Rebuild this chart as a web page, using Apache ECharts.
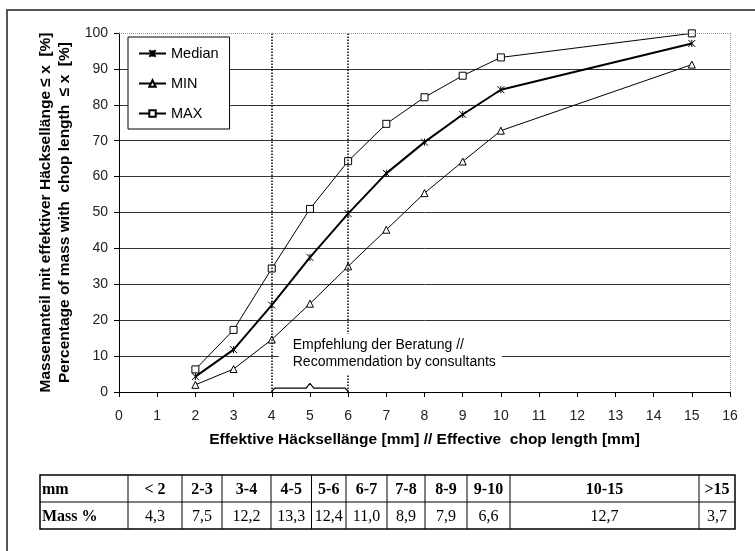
<!DOCTYPE html>
<html>
<head>
<meta charset="utf-8">
<script src="https://cdn.jsdelivr.net/npm/echarts@6/dist/echarts.min.js"></script>
<style>
  html, body { margin: 0; padding: 0; background: #fff; }
  #chart { width: 755px; height: 551px; }
</style>
</head>
<body>
<div id="chart"></div>
<script>
// chop length positions (mm)
const chopLength = [2, 3, 4, 5, 6, 7, 8, 9, 10, 15]
const medianVals = [4.3, 11.8, 24.2, 37.5, 49.7, 60.9, 69.6, 77.3, 84.2, 97.1]
const minVals = [2.0, 6.4, 14.6, 24.6, 35.0, 45.2, 55.4, 64.2, 72.8, 91.2]
const maxVals = [6.3, 17.3, 34.4, 51.0, 64.3, 74.7, 82.1, 88.1, 93.2, 99.9]
// recommended range and its brace
const recommend = [4, 6]
const braceX = [4, 4.08, 4.9, 5, 5.1, 5.92, 6]
const braceY = [0.2, 1.1, 1.1, 2.4, 1.1, 1.1, 0.2]
// table below the chart
const tableHead = ['mm', '< 2', '2-3', '3-4', '4-5', '5-6', '6-7', '7-8', '8-9', '9-10', '10-15', '>15']
const tableMass = ['Mass %', '4,3', '7,5', '12,2', '13,3', '12,4', '11,0', '8,9', '7,9', '6,6', '12,7', '3,7']

const zip = (xa, ya) => xa.map((x, i) => [x, ya[i]])

const chart = echarts.init(document.getElementById('chart'))

// table layout
const colW = [88, 54, 40, 49, 40.5, 34.5, 41, 38, 42, 43, 189, 36]
const tblLeft = 40, tblTop = 475, rowH = 27
function buildTable() {
  let els = []
  let x = tblLeft
  const total = colW.reduce((a, b) => a + b, 0)
  els.push({ type: 'rect', shape: { x: tblLeft, y: tblTop, width: total, height: rowH * 2 },
    style: { fill: 'none', stroke: '#000', lineWidth: 1.5 } })
  els.push({ type: 'line', shape: { x1: tblLeft, y1: tblTop + rowH, x2: tblLeft + total, y2: tblTop + rowH },
    style: { stroke: '#000', lineWidth: 1.2 } })
  colW.forEach((w, i) => {
    if (i > 0) {
      els.push({ type: 'line', shape: { x1: x, y1: tblTop, x2: x, y2: tblTop + rowH * 2 },
        style: { stroke: '#000', lineWidth: 1 } })
    }
    const first = i === 0
    els.push({ type: 'text', x: first ? x + 2 : x + w / 2, y: tblTop + rowH / 2 + 1,
      style: { text: tableHead[i], fontFamily: 'Liberation Serif', fontWeight: 'bold', fontSize: 16,
        fill: '#000', align: first ? 'left' : 'center', verticalAlign: 'middle' } })
    els.push({ type: 'text', x: first ? x + 2 : x + w / 2, y: tblTop + rowH * 1.5 + 1,
      style: { text: tableMass[i], fontFamily: 'Liberation Serif', fontWeight: first ? 'bold' : 'normal', fontSize: 16,
        fill: '#000', align: first ? 'left' : 'center', verticalAlign: 'middle' } })
    x += w
  })
  return els
}

const thin = { color: '#000', width: 1 }
const option = {
  animation: false,
  backgroundColor: '#fff',
  textStyle: { fontFamily: 'Liberation Sans' },
  grid: { left: 119, right: 25, top: 33, bottom: 159 },
  legend: {
    data: ['Median', 'MIN', 'MAX'],
    orient: 'vertical',
    left: 128,
    top: 37,
    padding: [9, 11, 8, 10],
    itemWidth: 27,
    itemHeight: 8,
    itemGap: 15,
    borderColor: '#000',
    borderWidth: 1,
    backgroundColor: '#fff',
    textStyle: { fontSize: 14.5, color: '#000' }
  },
  xAxis: {
    type: 'value',
    min: 0,
    max: 16,
    interval: 1,
    name: 'Effektive Häcksellänge [mm] // Effective  chop length [mm]',
    nameLocation: 'middle',
    nameGap: 40,
    nameTextStyle: { fontSize: 15.5, fontWeight: 'bold', color: '#000' },
    axisLine: { lineStyle: { color: '#000', width: 1 } },
    axisTick: { show: true, length: 5, lineStyle: { color: '#000' } },
    axisLabel: { fontSize: 14, color: '#222', margin: 17 },
    splitLine: { show: false }
  },
  yAxis: {
    type: 'value',
    min: 0,
    max: 100,
    interval: 10,
    name: 'Massenanteil mit effektiver Häcksellänge ≤ x  [%]\nPercentage of mass with  chop length  ≤ x  [%]',
    nameLocation: 'middle',
    nameRotate: 90,
    nameGap: 44,
    nameTextStyle: { fontSize: 15.5, fontWeight: 'bold', color: '#000', lineHeight: 19 },
    axisLine: { show: true, lineStyle: { color: '#000', width: 1 } },
    axisTick: { show: true, length: 5, lineStyle: { color: '#000' } },
    axisLabel: { fontSize: 14, color: '#222', margin: 11 },
    splitLine: { show: true, showMaxLine: false, lineStyle: { color: '#333', width: 1 } }
  },
  series: [
    {
      name: 'Median',
      type: 'line',
      data: zip(chopLength, medianVals),
      symbol: 'path://M0,0L10,10M10,0L0,10M5,0L5,10',
      symbolSize: 7,
      lineStyle: { color: '#000', width: 2 },
      itemStyle: { color: '#fff', borderColor: '#000', borderWidth: 1 },
      z: 5,
      markLine: {
        silent: true,
        symbol: 'none',
        label: { show: false },
        lineStyle: { color: '#000', type: 'dotted', width: 1.5 },
        data: recommend.map(v => ({ xAxis: v }))
      }
    },
    {
      name: 'MIN',
      type: 'line',
      data: zip(chopLength, minVals),
      symbol: 'triangle',
      symbolSize: 7,
      lineStyle: thin,
      itemStyle: { color: '#fff', borderColor: '#000', borderWidth: 1 },
      markLine: {
        silent: true,
        symbol: 'none',
        label: { show: false },
        lineStyle: { color: '#999', type: 'dotted', width: 1 },
        data: [{ yAxis: 100 }, { xAxis: 16 }]
      }
    },
    {
      name: 'MAX',
      type: 'line',
      data: zip(chopLength, maxVals),
      symbol: 'rect',
      symbolSize: 7,
      lineStyle: thin,
      itemStyle: { color: '#fff', borderColor: '#000', borderWidth: 1 }
    },
    {
      name: 'brace',
      type: 'line',
      data: zip(braceX, braceY),
      symbol: 'none',
      lineStyle: { color: '#000', width: 1.2 },
      silent: true
    }
  ]
}
chart.setOption(option)

const textPos = chart.convertToPixel({ xAxisIndex: 0, yAxisIndex: 0 }, [4.55, 10.6])
chart.setOption({
  graphic: [
    { type: 'rect', z: 0, silent: true, shape: { x: 7, y: 10, width: 800, height: 600 },
      style: { fill: 'none', stroke: '#555', lineWidth: 2 } },
    { type: 'text', z: 100, x: textPos[0] - 14, y: textPos[1],
      style: { text: 'Empfehlung der Beratung //\nRecommendation by consultants',
        fontFamily: 'Liberation Sans', fontSize: 14, lineHeight: 17, fill: '#000',
        backgroundColor: '#fff', padding: [3, 6, 3, 14], verticalAlign: 'middle' } }
  ].concat(buildTable())
})
</script>
</body>
</html>
